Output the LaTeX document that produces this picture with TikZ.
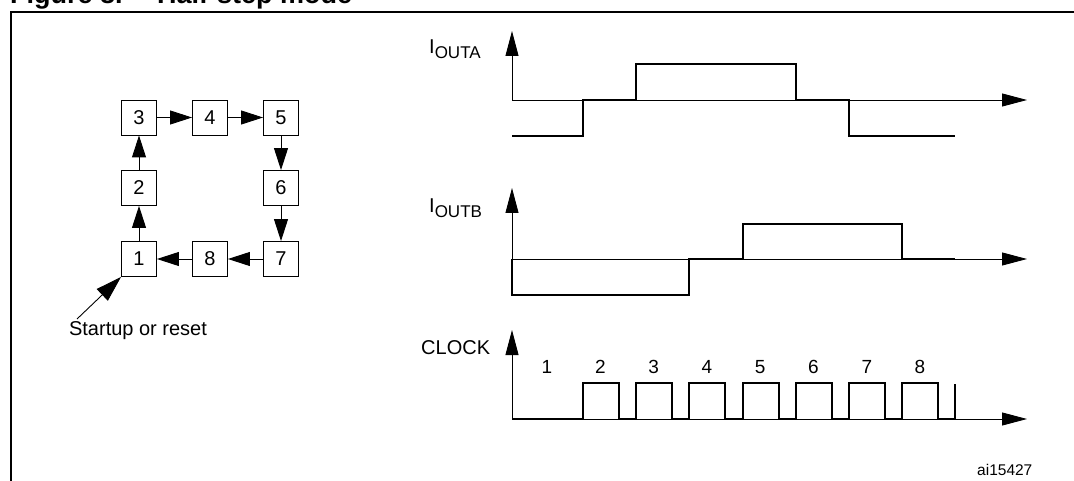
\documentclass[tikz,border=0pt]{standalone}
\usepackage{fontspec}
\setmainfont{Liberation Sans}
\usetikzlibrary{arrows.meta}
\begin{document}
\begin{tikzpicture}[x=1pt,y=-1pt,
  stepbox/.style={draw,line width=0.9pt,minimum width=35pt,minimum height=35pt,inner sep=0pt,font=\fontsize{20}{24}\selectfont},
  flow/.style={line width=0.9pt,-{Triangle[length=22pt,width=14pt]}},
  startarrow/.style={line width=0.9pt,-{Triangle[length=26pt,width=16pt]}},
  axis/.style={line width=0.9pt,-{Triangle[length=25pt,width=13pt]}},
  wave/.style={line width=2pt,line join=miter},
  lbl/.style={font=\fontsize{20}{24}\selectfont,inner sep=0pt},
  numlbl/.style={font=\fontsize{19}{22}\selectfont,inner sep=0pt},
  titlelbl/.style={font=\fontsize{27}{30}\selectfont\bfseries,inner sep=0pt,anchor=base west}
]
\useasboundingbox (0,0) rectangle (1074,481);
% frame
\draw[line width=2pt] (11,481) -- (11,12) -- (1074,12);
% clipped title
\node[titlelbl] (t1) at (10,4) {Figure 8.};
\node[titlelbl] (t2) at (157,4) {Half-step mode};
% state boxes
\node[stepbox] (b3) at (139,117.5) {3};
\node[stepbox] (b4) at (210,117.5) {4};
\node[stepbox] (b5) at (281,117.5) {5};
\node[stepbox] (b2) at (139,188) {2};
\node[stepbox] (b6) at (281,188) {6};
\node[stepbox] (b1) at (139,259) {1};
\node[stepbox] (b8) at (210,259) {8};
\node[stepbox] (b7) at (281,259) {7};
\draw[flow] (b1) -- (b2);
\draw[flow] (b2) -- (b3);
\draw[flow] (b3) -- (b4);
\draw[flow] (b4) -- (b5);
\draw[flow] (b5) -- (b6);
\draw[flow] (b6) -- (b7);
\draw[flow] (b7) -- (b8);
\draw[flow] (b8) -- (b1);
\coordinate (st) at (77,319);
\draw[startarrow] (st) -- (b1.south west);
\node[lbl] (stl) at (138,331) {Startup or reset};
% IOUT A
\coordinate (a0) at (512,100);
\coordinate (ay) at (512,31);
\coordinate (ax) at (1027,100);
\draw[axis] (a0) -- (ay);
\draw[axis] (a0) -- (ax);
\draw[wave] (512,136) -- (583,136) -- (583,100) -- (636,100) -- (636,64) -- (796,64) -- (796,100) -- (849,100) -- (849,136) -- (955,136);
\node[lbl,anchor=base west] (la) at (429,54) {I\raisebox{-4.5pt}{\fontsize{17}{20}\selectfont OUTA}};
% IOUT B
\coordinate (b0) at (512,259);
\coordinate (by) at (512,188);
\coordinate (bx) at (1027,259);
\draw[axis] (b0) -- (by);
\draw[axis] (b0) -- (bx);
\draw[wave] (512,259) -- (512,295) -- (689,295) -- (689,259) -- (743,259) -- (743,224) -- (902,224) -- (902,259) -- (955,259);
\node[lbl,anchor=base west] (lb) at (429,213) {I\raisebox{-4.5pt}{\fontsize{17}{20}\selectfont OUTB}};
% CLOCK
\coordinate (c0) at (512,419);
\coordinate (cy) at (512,330);
\coordinate (cx) at (1027,419);
\draw[axis] (c0) -- (cy);
\draw[axis] (c0) -- (cx);
\draw[wave] (512,419) -- (583,419) -- (583,383) -- (619,383) -- (619,419)
  -- (636.2,419) -- (636.2,383) -- (672.2,383) -- (672.2,419)
  -- (689.4,419) -- (689.4,383) -- (725.4,383) -- (725.4,419)
  -- (742.6,419) -- (742.6,383) -- (778.6,383) -- (778.6,419)
  -- (795.8,419) -- (795.8,383) -- (831.8,383) -- (831.8,419)
  -- (849,419) -- (849,383) -- (885,383) -- (885,419)
  -- (902.2,419) -- (902.2,383) -- (938.2,383) -- (938.2,419)
  -- (955,419) -- (955,384);
\node[lbl,anchor=base west] (lc) at (421,354) {CLOCK};
\node[numlbl] (n1) at (547,367) {1};
\node[numlbl] (n2) at (600.3,367) {2};
\node[numlbl] (n3) at (653.6,367) {3};
\node[numlbl] (n4) at (707,367) {4};
\node[numlbl] (n5) at (760.2,367) {5};
\node[numlbl] (n6) at (813.5,367) {6};
\node[numlbl] (n7) at (866.8,367) {7};
\node[numlbl] (n8) at (920,367) {8};
\node[font=\fontsize{15.5}{18}\selectfont,inner sep=0pt,anchor=base west] (id) at (977,475.5) {ai15427};
\end{tikzpicture}
\end{document}
